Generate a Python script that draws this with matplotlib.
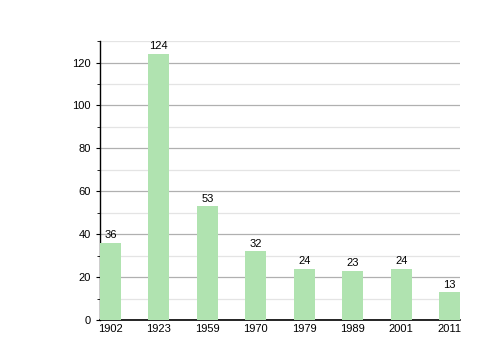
import matplotlib
matplotlib.use('Agg')
from matplotlib import pyplot as plt
from matplotlib.ticker import MultipleLocator

plt.rcParams['font.family'] = ['Liberation Sans', 'DejaVu Sans']

years = ['1902', '1923', '1959', '1970', '1979', '1989', '2001', '2011']
population = [36, 124, 53, 32, 24, 23, 24, 13]

fig = plt.figure(figsize=(5, 3.6), dpi=100)
ax = fig.add_axes([0.2, 0.111, 0.72, 0.775])

x = range(len(years))
ax.bar(x, population, width=0.43, color='#b0e3b0', zorder=3)
for xi, v in zip(x, population):
    ax.text(xi, v + 1.2, str(v), ha='center', va='bottom', fontsize=8, zorder=4)

ax.set_xlim(-0.215, len(years) - 1 + 0.215)
ax.set_ylim(0, 130)
ax.set_xticks(list(x))
ax.set_xticklabels(years)
ax.yaxis.set_major_locator(MultipleLocator(20))
ax.yaxis.set_minor_locator(MultipleLocator(10))
ax.grid(axis='y', which='major', color='#b0b0b0', linewidth=0.9, zorder=0)
ax.grid(axis='y', which='minor', color='#e4e4e4', linewidth=0.9, zorder=0)

for s in ['top', 'right']:
    ax.spines[s].set_visible(False)
ax.spines['left'].set_linewidth(1.0)
ax.spines['bottom'].set_linewidth(1.2)
ax.tick_params(axis='x', length=0, labelsize=8, pad=3)
ax.tick_params(axis='y', which='major', length=3, labelsize=8)
ax.tick_params(axis='y', which='minor', length=2)

fig.savefig('out.png', dpi=100)
